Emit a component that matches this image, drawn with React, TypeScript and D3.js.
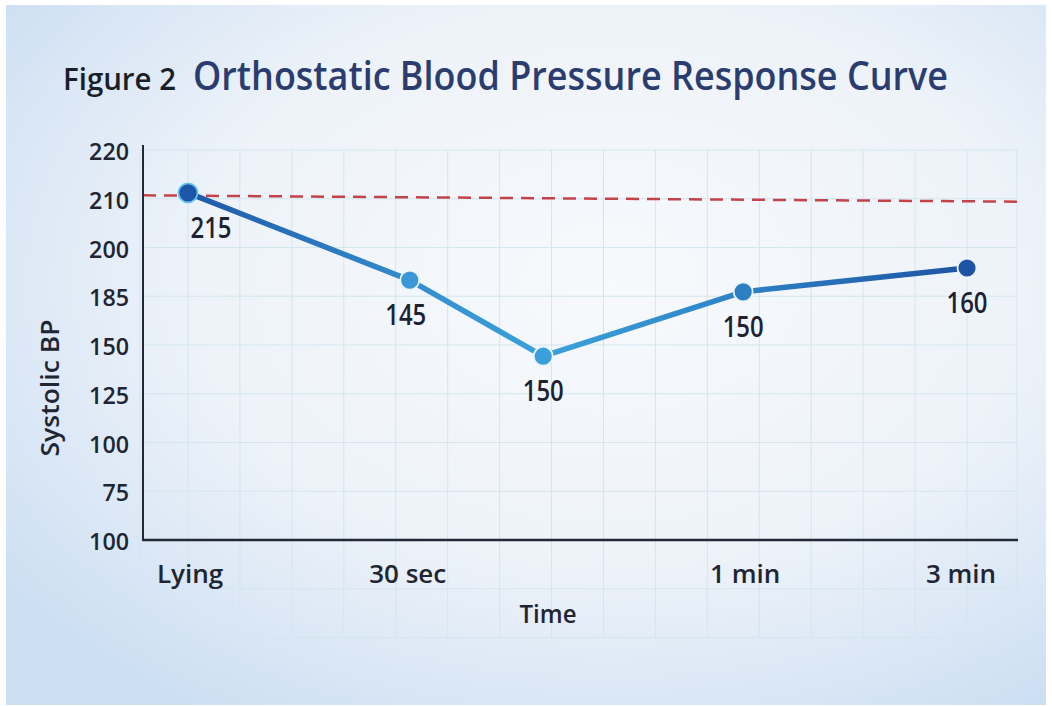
import React, { useRef, useEffect } from "react";
import * as d3 from "d3";

// chart values
const times = ["Lying", "30 sec", "", "1 min", "3 min"];
const timePos = [0, 4.27, 6.84, 10.69, 15];
const bpSlot = [7.12, 5.33, 3.77, 5.09, 5.58];
const bpLabels = ["215", "145", "150", "150", "160"];
const yTickLabels = ["100", "75", "100", "125", "150", "185", "200", "210", "220"];
const refLine = [7.07, 6.94];
const pointColors = ["#1d55a8", "#3a98d6", "#3ba0da", "#2d7fc4", "#1e54a5"];

const W = 1052;
const H = 706;
const FONT = "'Open Sans', 'Noto Sans', sans-serif";

const App = () => {
  const svgRef = useRef<SVGSVGElement>(null);

  useEffect(() => {
    const svg = d3.select(svgRef.current);
    svg.selectAll("*").remove();

    const x = d3.scaleLinear().domain([0, 15]).range([188, 967]);
    const y = d3.scaleLinear().domain([0, 8]).range([540, 150]);
    const gridLeft = 140;
    const gridRight = 1017;
    const axisX = 143;

    const defs = svg.append("defs");
    const bg = defs
      .append("radialGradient")
      .attr("id", "bg")
      .attr("cx", "58%")
      .attr("cy", "40%")
      .attr("r", "72%");
    bg.append("stop").attr("offset", "0%").attr("stop-color", "#f7f9fc");
    bg.append("stop").attr("offset", "55%").attr("stop-color", "#eef3f9");
    bg.append("stop").attr("offset", "100%").attr("stop-color", "#cddff3");

    const lineGrad = defs
      .append("linearGradient")
      .attr("id", "lineGrad")
      .attr("gradientUnits", "userSpaceOnUse")
      .attr("x1", x(0))
      .attr("x2", x(15))
      .attr("y1", 0)
      .attr("y2", 0);
    lineGrad.append("stop").attr("offset", "0%").attr("stop-color", "#1f58a8");
    lineGrad.append("stop").attr("offset", "30%").attr("stop-color", "#3390cf");
    lineGrad.append("stop").attr("offset", "46%").attr("stop-color", "#3ba2da");
    lineGrad.append("stop").attr("offset", "70%").attr("stop-color", "#2e84c6");
    lineGrad.append("stop").attr("offset", "100%").attr("stop-color", "#1d53a3");

    // background
    svg.append("rect").attr("width", W).attr("height", H).attr("fill", "#ffffff");
    svg
      .append("rect")
      .attr("x", 6)
      .attr("y", 5)
      .attr("width", 1040)
      .attr("height", 700)
      .attr("fill", "url(#bg)");

    // grid
    const grid = svg.append("g").attr("stroke", "#d3e6ef").attr("stroke-width", 1);
    d3.range(-2, 9).forEach(s => {
      grid
        .append("line")
        .attr("x1", gridLeft)
        .attr("x2", gridRight)
        .attr("y1", y(s))
        .attr("y2", y(s));
    });
    d3.range(0, 16).forEach(t => {
      grid
        .append("line")
        .attr("x1", x(t))
        .attr("x2", x(t))
        .attr("y1", y(8))
        .attr("y2", y(-2));
    });
    [gridLeft, gridRight].forEach(gx => {
      grid
        .append("line")
        .attr("x1", gx)
        .attr("x2", gx)
        .attr("y1", y(8))
        .attr("y2", y(-2));
    });

    // reference line
    svg
      .append("line")
      .attr("x1", axisX)
      .attr("x2", gridRight)
      .attr("y1", y(refLine[0]))
      .attr("y2", y(refLine[1]))
      .attr("stroke", "#c4434a")
      .attr("stroke-width", 2.5)
      .attr("stroke-dasharray", "13 8");

    // axes
    svg
      .append("line")
      .attr("x1", axisX)
      .attr("x2", axisX)
      .attr("y1", 145)
      .attr("y2", y(0))
      .attr("stroke", "#222836")
      .attr("stroke-width", 2);
    svg
      .append("line")
      .attr("x1", axisX - 1)
      .attr("x2", gridRight + 1)
      .attr("y1", y(0))
      .attr("y2", y(0))
      .attr("stroke", "#222836")
      .attr("stroke-width", 2.5);

    // y tick labels
    svg
      .append("g")
      .selectAll("text")
      .data(yTickLabels)
      .join("text")
      .attr("x", 129)
      .attr("y", (d, i) => y(i) + 10)
      .attr("text-anchor", "end")
      .attr("font-family", FONT)
      .attr("font-size", 24)
      .attr("font-weight", 600)
      .attr("fill", "#1f2533")
      .attr("textLength", (d: string) => d.length * 13.3)
      .attr("lengthAdjust", "spacingAndGlyphs")
      .text(d => d);

    // x tick labels
    svg
      .append("g")
      .selectAll("text")
      .data(times.map((t, i) => ({ t, p: timePos[i] })).filter(d => d.t))
      .join("text")
      .attr("x", d => x(d.p) + (d.t === "3 min" ? -6 : d.t === "30 sec" ? -2 : 2))
      .attr("y", 583)
      .attr("text-anchor", "middle")
      .attr("font-family", FONT)
      .attr("font-size", 26)
      .attr("font-weight", 600)
      .attr("fill", "#1f2533")
      .text(d => d.t);

    // axis titles
    svg
      .append("text")
      .attr("x", 548)
      .attr("y", 623)
      .attr("text-anchor", "middle")
      .attr("font-family", FONT)
      .attr("font-size", 26)
      .attr("font-weight", 600)
      .attr("fill", "#1f2533")
      .attr("textLength", 57)
      .attr("lengthAdjust", "spacingAndGlyphs")
      .text("Time");
    svg
      .append("text")
      .attr("transform", "translate(59,388) rotate(-90)")
      .attr("text-anchor", "middle")
      .attr("font-family", FONT)
      .attr("font-size", 26)
      .attr("font-weight", 600)
      .attr("fill", "#1f2533")
      .attr("textLength", 137)
      .attr("lengthAdjust", "spacingAndGlyphs")
      .text("Systolic BP");

    // line
    const pts = timePos.map((p, i) => [x(p), y(bpSlot[i])] as [number, number]);
    svg
      .append("path")
      .datum(pts)
      .attr("fill", "none")
      .attr("stroke", "url(#lineGrad)")
      .attr("stroke-width", 5.5)
      .attr("stroke-linejoin", "round")
      .attr("d", d3.line());

    // points
    svg
      .append("g")
      .selectAll("circle")
      .data(pts)
      .join("circle")
      .attr("cx", d => d[0])
      .attr("cy", d => d[1])
      .attr("r", 9.5)
      .attr("fill", (d, i) => pointColors[i])
      .attr("stroke", (d, i) => (i === 0 ? "#62c3ee" : "#eaf4fb"))
      .attr("stroke-width", 1.8);

    // point labels
    svg
      .append("g")
      .selectAll("text")
      .data(pts)
      .join("text")
      .attr("x", (d, i) => d[0] + (i === 0 ? 23 : i === 1 ? -4 : 0))
      .attr("y", d => d[1] + 45)
      .attr("text-anchor", "middle")
      .attr("font-family", FONT)
      .attr("font-size", 28)
      .attr("font-weight", 600)
      .attr("fill", "#1c2232")
      .attr("textLength", 41)
      .attr("lengthAdjust", "spacingAndGlyphs")
      .text((d, i) => bpLabels[i]);

    // title
    svg
      .append("text")
      .attr("x", 63)
      .attr("y", 90)
      .attr("font-family", FONT)
      .attr("font-size", 30)
      .attr("font-weight", 600)
      .attr("fill", "#1a1e29")
      .attr("textLength", 113)
      .attr("lengthAdjust", "spacingAndGlyphs")
      .text("Figure 2");
    svg
      .append("text")
      .attr("x", 193)
      .attr("y", 90)
      .attr("font-family", FONT)
      .attr("font-size", 39)
      .attr("font-weight", 600)
      .attr("fill", "#2b3d6f")
      .attr("textLength", 755)
      .attr("lengthAdjust", "spacingAndGlyphs")
      .text("Orthostatic Blood Pressure Response Curve");
  }, []);

  return (
    <svg
      ref={svgRef}
      width={W}
      height={H}
      style={{ position: "absolute", left: 0, top: 0, display: "block" }}
    />
  );
};

export default App;
